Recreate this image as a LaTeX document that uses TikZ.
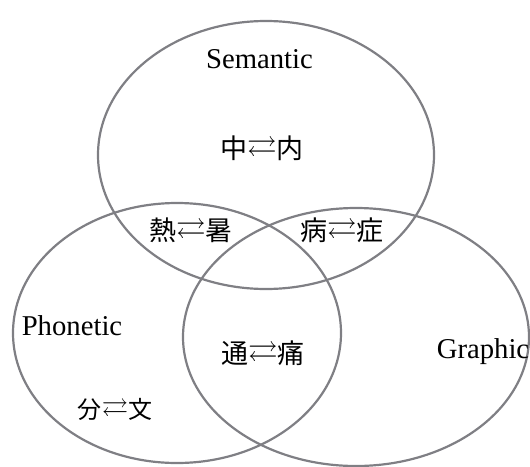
\documentclass[tikz,border=0pt]{standalone}
\usepackage{amssymb}
\usepackage{fontspec}
\setmainfont{Liberation Serif}
\newfontfamily\cjk{Noto Sans CJK JP}
\definecolor{vennline}{RGB}{127,127,132}
\newcommand{\rarr}{\raisebox{0.08em}{\fontsize{1.1em}{1.2em}\selectfont$\rightleftarrows$}}
\begin{document}
\begin{tikzpicture}[x=1pt,y=-1pt,
  venn/.style={draw=vennline, line width=2.2pt},
  lab/.style={inner sep=0pt, anchor=base, font=\fontsize{28.7}{32}\selectfont},
  pair/.style={inner sep=0pt, anchor=center, font=\fontsize{27}{32}\selectfont\cjk},
  smallpair/.style={inner sep=0pt, anchor=center, font=\fontsize{24}{28}\selectfont\cjk}]
\useasboundingbox (0,0) rectangle (530,466);
\draw[venn] (266,155) ellipse [x radius=168pt, y radius=134pt];
\draw[venn] (177,333) ellipse [x radius=164pt, y radius=130pt];
\draw[venn] (356,337) ellipse [x radius=173pt, y radius=129pt];
\node[lab] (sem) at (259.5,68) {Semantic};
\node[lab] (pho) at (72,335) {Phonetic};
\node[lab] (gra) at (483,358) {Graphic};
\node[pair] (p1) at (262,149) {中\rarr 内};
\node[pair] (p2) at (191,231) {熱\rarr 暑};
\node[pair] (p3) at (342,231) {病\rarr 症};
\node[pair] (p4) at (263,354) {通\rarr 痛};
\node[smallpair] (p5) at (115,410) {分\rarr 文};
\end{tikzpicture}
\end{document}
